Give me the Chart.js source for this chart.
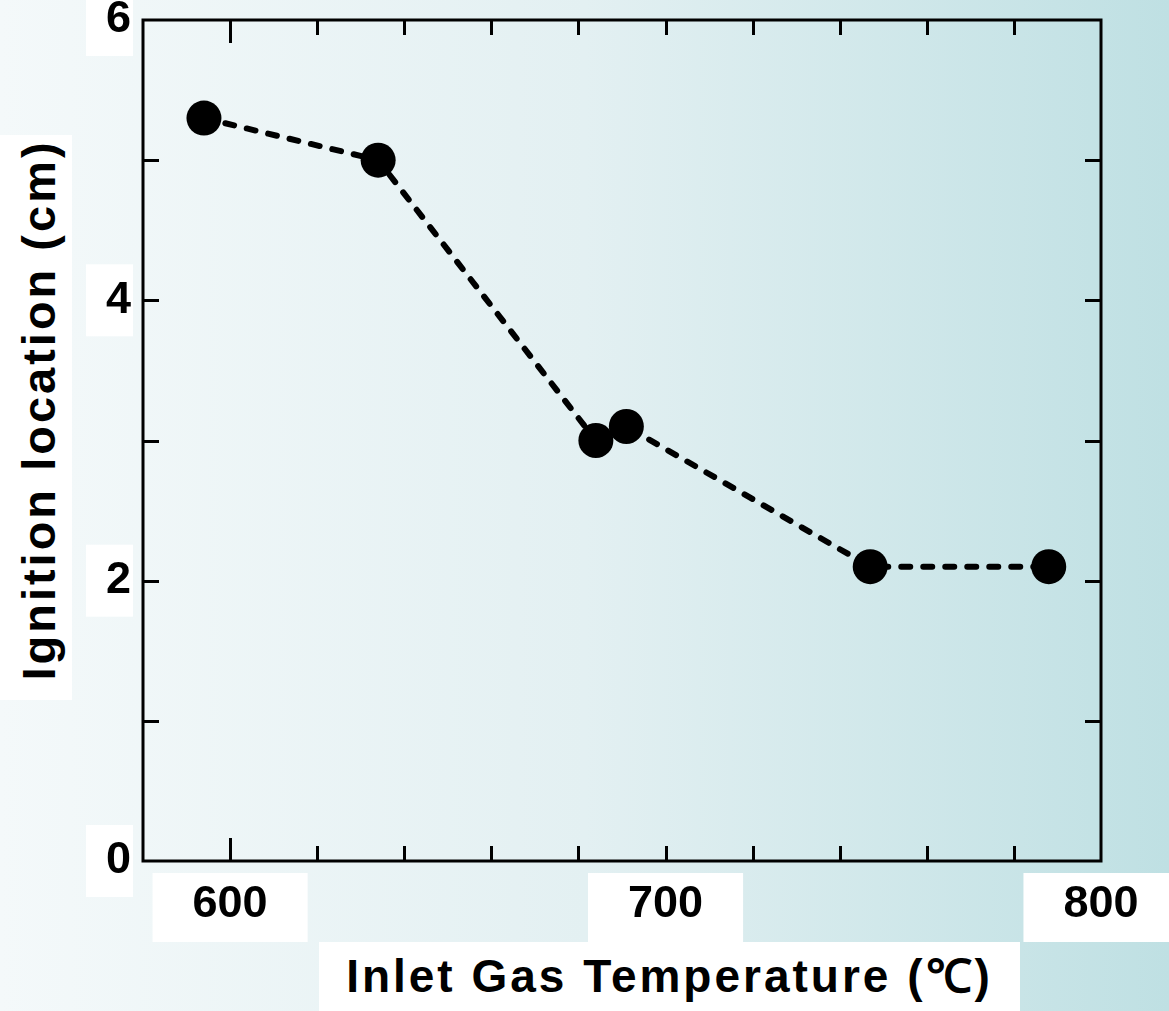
<!DOCTYPE html>
<html>
<head>
<meta charset="utf-8">
<title>Ignition location vs inlet gas temperature</title>
<script src="https://cdn.jsdelivr.net/npm/chart.js@4.4.1/dist/chart.umd.min.js"></script>
<style>
html, body { margin: 0; padding: 0; }
body {
  width: 1169px; height: 1011px; overflow: hidden; position: relative;
  background: linear-gradient(to right, #f4f9fa 0%, #e3f0f2 50%, #bfe0e3 100%);
  font-family: "Liberation Sans", Arial, sans-serif;
}
#chart { position: absolute; left: 0; top: 0; }
.axis-title { position: absolute; background: #fff; color: #000; font-weight: bold; letter-spacing: 3px; white-space: nowrap; }
#xTitle { left: 319px; top: 942px; width: 701px; height: 69px; line-height: 69px; font-size: 46px; text-align: center; }
#yTitle { left: 0; top: 135px; width: 72px; height: 565px; }
#yTitle span { position: absolute; left: 38px; top: 275px; font-size: 47px; transform: translate(-50%, -50%) rotate(-90deg); }
</style>
</head>
<body>
<canvas id="chart" width="1169" height="1011"></canvas>
<div id="yTitle" class="axis-title"><span>Ignition location (cm)</span></div>
<div id="xTitle" class="axis-title">Inlet Gas Temperature (℃)</div>
<script>
// data
const temperature = [594, 634, 684, 691, 747, 788];
const ignitionLocation = [5.3, 5.0, 3.0, 3.1, 2.1, 2.1];

// tick labels and tick marks
const xLabelTicks = [600, 700, 800];
const xMarkTicks = [600, 620, 640, 660, 680, 700, 720, 740, 760, 780];
const yLabelTicks = [0, 2, 4, 6];
const yMarkTicks = [1, 2, 3, 4, 5];

// box round the plot with ticks pointing inwards
const frame = {
  id: 'frame',
  beforeDatasetsDraw(chart) {
    const {ctx, chartArea: a, scales: {x, y}} = chart;
    ctx.save();
    ctx.strokeStyle = '#000';
    ctx.lineWidth = 3;
    ctx.strokeRect(a.left, a.top, a.right - a.left, a.bottom - a.top);
    ctx.beginPath();
    xMarkTicks.forEach(v => {
      const px = Math.round(x.getPixelForValue(v)) + 0.5;
      const len = v === 600 ? 23 : 15;
      ctx.moveTo(px, a.bottom); ctx.lineTo(px, a.bottom - len);
      ctx.moveTo(px, a.top); ctx.lineTo(px, a.top + len);
    });
    yMarkTicks.forEach(v => {
      const py = Math.round(y.getPixelForValue(v)) + 0.5;
      ctx.moveTo(a.left, py); ctx.lineTo(a.left + 16, py);
      ctx.moveTo(a.right, py); ctx.lineTo(a.right - 16, py);
    });
    ctx.stroke();
    ctx.restore();
  }
};

const tickFont = {family: 'Liberation Sans', size: 45, weight: 'bold'};

const ctx = document.getElementById('chart').getContext('2d');
new Chart(ctx, {
  type: 'scatter',
  data: {
    datasets: [{
      data: temperature.map((t, i) => ({x: t, y: ignitionLocation[i]})),
      showLine: true,
      borderColor: '#000',
      borderWidth: 6,
      borderCapStyle: 'round',
      borderDash: [9, 13],
      pointRadius: 17.5,
      pointHoverRadius: 17.5,
      pointBackgroundColor: '#000',
      pointBorderWidth: 0
    }]
  },
  options: {
    responsive: false,
    animation: false,
    events: [],
    layout: {padding: {top: 20, right: 68, left: 0, bottom: 0}},
    plugins: {legend: {display: false}, tooltip: {enabled: false}},
    scales: {
      x: {
        type: 'linear', min: 580, max: 800,
        afterBuildTicks: s => { s.ticks = xLabelTicks.map(v => ({value: v})); },
        afterFit: s => { s.height = 150; s.paddingLeft = 0; s.paddingRight = 0; },
        grid: {display: false},
        border: {display: false},
        ticks: {
          color: '#000', font: tickFont, padding: 9, maxRotation: 0, autoSkip: false,
          showLabelBackdrop: true, backdropColor: '#fff',
          backdropPadding: {left: 40, right: 40, top: 5, bottom: 10}
        }
      },
      y: {
        min: 0, max: 6,
        afterBuildTicks: s => { s.ticks = yLabelTicks.map(v => ({value: v})); },
        afterFit: s => { s.width = 143; s.paddingTop = 0; s.paddingBottom = 0; },
        grid: {display: false},
        border: {display: false},
        ticks: {
          color: '#000', font: tickFont, padding: 4,
          showLabelBackdrop: true, backdropColor: '#fff',
          backdropPadding: {left: 20, right: 2, top: 9, bottom: 9}
        }
      }
    }
  },
  plugins: [frame]
});
</script>
</body>
</html>
